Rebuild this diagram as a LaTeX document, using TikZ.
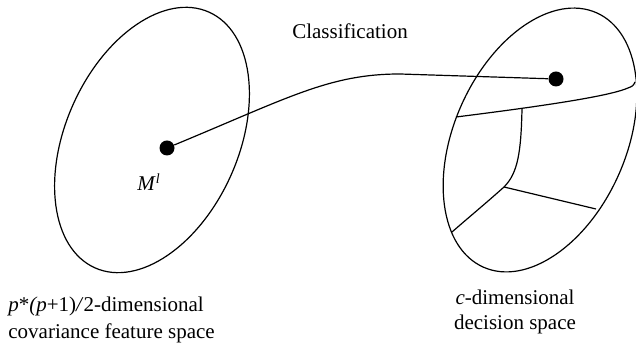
\documentclass[tikz,border=0pt]{standalone}
\usepackage{fontspec}
\setmainfont{Liberation Serif}
\begin{document}
\begin{tikzpicture}[x=0.5pt,y=0.5pt,
  line/.style={line width=0.6pt, black},
  dotnode/.style={circle, fill=black, inner sep=0pt, minimum size=7.5pt},
  lbl/.style={font=\fontsize{10.5}{12}\selectfont, inner sep=0pt}]
\useasboundingbox (0,0) rectangle (636,352);
% spaces
\draw[line] (152,212) ellipse [x radius=70pt, y radius=43.25pt, rotate=66];
\draw[line] (540,212) ellipse [x radius=69.6pt, y radius=43pt, rotate=66];
% points
\node[dotnode] (ml) at (167,204) {};
\node[dotnode] (dp) at (556,273) {};
\coordinate (mid) at (400,278);
\draw[line] (ml) .. controls (290,255) and (330,278) .. (mid) -- (dp);
% decision boundaries
\coordinate (b1s) at (456,235);
\coordinate (b1m) at (628,264);
\coordinate (b1e) at (635,270);
\draw[line] (b1s) .. controls (560,248) and (612,257) .. (b1m) .. controls (633,266) .. (b1e);
\coordinate (b2s) at (522,243);
\coordinate (jn) at (504,165);
\coordinate (b2e) at (452,120);
\coordinate (b3e) at (596,143);
\draw[line] (b2s) .. controls (521,200) and (518,179) .. (jn) .. controls (485,148) and (468,134) .. (b2e);
\draw[line] (jn) -- (b3e);
% labels
\node[lbl, anchor=base] (cls) at (350,313) {Classification};
\node[lbl, anchor=base] (mlab) at (149,161) {\textit{M}$^{\textit{\scriptsize l}}$};
\node[lbl, anchor=base west] (f1) at (8,40) {\textit{p}*\textit{(p}+1)\textit{/}2-dimensional};
\node[lbl, anchor=base west] (f2) at (8,13) {covariance feature space};
\node[lbl, anchor=base] (d1) at (515,47) {\textit{c}-dimensional};
\node[lbl, anchor=base] (d2) at (515,22) {decision space};
\end{tikzpicture}
\end{document}
